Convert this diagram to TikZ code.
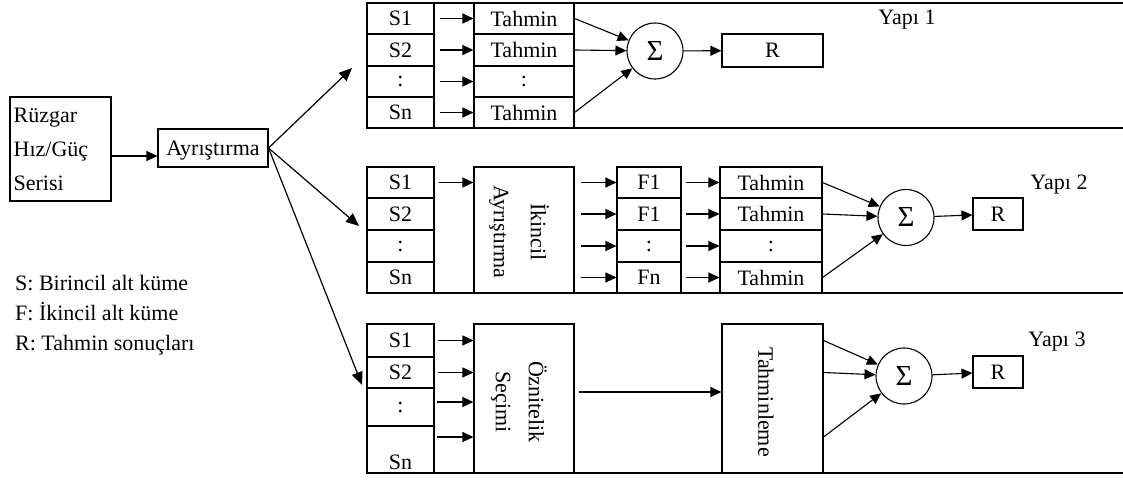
\documentclass[tikz,border=0pt]{standalone}
\usepackage{fontspec}
\setmainfont{Liberation Serif}
\usetikzlibrary{arrows.meta,calc}
\begin{document}
\begin{tikzpicture}[x=1pt,y=-1pt,
  every node/.style={font=\fontsize{22}{26}\selectfont},
  cell/.style={draw, line width=1.1pt, inner sep=0pt, text depth=0pt},
  arr/.style={line width=1.1pt, -{Triangle[length=11pt,width=10pt]}},
  fanarr/.style={line width=1.2pt, -{Triangle[length=13pt,width=11pt]}},
  frame/.style={line width=1.3pt},
  sumc/.style={draw, circle, line width=1.1pt, minimum size=56pt, inner sep=0pt, font=\fontsize{29}{30}\selectfont},
  vtext/.style={rotate=-90, align=center, inner sep=0pt},
  legend/.style={anchor=base west, inner sep=0pt}
  ]
\useasboundingbox (0,0) rectangle (1123,479);

% ---------- left part ----------
\node[cell, minimum width=101pt, minimum height=104pt] (rz) at (60.5,149) {};
\node[align=left, anchor=west, inner sep=4pt, font=\fontsize{22}{34}\selectfont] (rzt) at (rz.west) {Rüzgar\\Hız/Güç\\Serisi};
\node[cell, minimum width=110pt, minimum height=38pt] (ay) at (213,148) {Ayrıştırma};
\coordinate (ra) at ($(rz.east)+(0,7)$);
\draw[arr] (ra) -- (ra -| ay.west);

\coordinate (e1) at (352,68);
\coordinate (e2) at (359,226);
\coordinate (e3) at (362,385);
\draw[fanarr] (ay.east) -- (e1);
\draw[fanarr] (ay.east) -- (e2);
\draw[fanarr] (ay.east) -- (e3);

\node[legend] (lg1) at (15,290) {S: Birincil alt küme};
\node[legend] (lg2) at (15,320) {F: İkincil alt küme};
\node[legend] (lg3) at (15,350) {R: Tahmin sonuçları};

% ---------- Yapi 1 ----------
\draw[frame] (367,3) -- (1123,3);
\draw[frame] (367,128) -- (1123,128);
\node[cell, minimum width=67pt, minimum height=31pt] (s11) at (400.5,18.5) {S1};
\node[cell, minimum width=67pt, minimum height=32pt] (s12) at (400.5,50) {S2};
\node[cell, minimum width=67pt, minimum height=31pt] (s13) at (400.5,81.5) {:};
\node[cell, minimum width=67pt, minimum height=31pt] (s14) at (400.5,112.5) {Sn};
\node[cell, minimum width=40pt, minimum height=125pt] (g1) at (454,65.5) {};
\node[cell, minimum width=100pt, minimum height=31pt] (t11) at (524,18.5) {Tahmin};
\node[cell, minimum width=100pt, minimum height=32pt] (t12) at (524,50) {Tahmin};
\node[cell, minimum width=100pt, minimum height=31pt] (t13) at (524,81.5) {:};
\node[cell, minimum width=100pt, minimum height=31pt] (t14) at (524,112.5) {Tahmin};
\node[sumc] (sg1) at (655,51) {Σ};
\node[cell, minimum width=101pt, minimum height=33pt] (r1) at (772.5,50.5) {R};
\node (y1) at (907,20) {Yapı 1};
\foreach \i in {1,...,4} \draw[arr] ([xshift=5pt]s1\i.east) -- (t1\i.west);
\draw[arr] (t11.east) -- (sg1);
\draw[arr] (t12.east) -- (sg1);
\draw[arr] (t14.east) -- (sg1);
\draw[arr] (sg1) -- (r1);

% ---------- Yapi 2 ----------
\draw[frame] (367,293) -- (1123,293);
\node[cell, minimum width=67pt, minimum height=31pt] (s21) at (400.5,182.5) {S1};
\node[cell, minimum width=67pt, minimum height=32pt] (s22) at (400.5,214) {S2};
\node[cell, minimum width=67pt, minimum height=32pt] (s23) at (400.5,246) {:};
\node[cell, minimum width=67pt, minimum height=31pt] (s24) at (400.5,277.5) {Sn};
\node[cell, minimum width=100pt, minimum height=126pt] (ik) at (524,230) {};
\node[vtext, font=\fontsize{22}{37}\selectfont] (ikt) at (519,232) {İkincil\\Ayrıştırma};
\node[cell, minimum width=64pt, minimum height=31pt] (f1) at (649,182.5) {F1};
\node[cell, minimum width=64pt, minimum height=32pt] (f2) at (649,214) {F1};
\node[cell, minimum width=64pt, minimum height=32pt] (f3) at (649,246) {:};
\node[cell, minimum width=64pt, minimum height=31pt] (f4) at (649,277.5) {Fn};
\node[cell, minimum width=102pt, minimum height=31pt] (t21) at (771,182.5) {Tahmin};
\node[cell, minimum width=102pt, minimum height=32pt] (t22) at (771,214) {Tahmin};
\node[cell, minimum width=102pt, minimum height=32pt] (t23) at (771,246) {:};
\node[cell, minimum width=102pt, minimum height=31pt] (t24) at (771,277.5) {Tahmin};
\node[sumc] (sg2) at (906,217.5) {Σ};
\node[cell, minimum width=50pt, minimum height=32pt] (r2) at (998,214) {R};
\node (y2) at (1059,185) {Yapı 2};
\draw[arr] ([xshift=4pt]s21.east) -- (s21.east -| ik.west);
\foreach \i in {1,...,4} {
  \draw[arr] ($(ik.east |- f\i.west)+(6,0)$) -- (f\i.west);
  \draw[arr] ([xshift=4pt]f\i.east) -- (t2\i.west);
}
\draw[arr] (t21.east) -- (sg2);
\draw[arr] (t22.east) -- (sg2);
\draw[arr] (t24.east) -- (sg2);
\draw[arr] (sg2) -- (r2);

% ---------- Yapi 3 ----------
\draw[frame] (367,473) -- (1123,473);
\node[cell, minimum width=67pt, minimum height=33pt] (s31) at (400.5,340.5) {S1};
\node[cell, minimum width=67pt, minimum height=31pt] (s32) at (400.5,372.5) {S2};
\node[cell, minimum width=67pt, minimum height=38pt] (s33) at (400.5,407) {:};
\node[cell, minimum width=67pt, minimum height=47pt] (s34) at (400.5,449.5) {};
\node[inner sep=0pt, anchor=base] (s34t) at (400.5,469) {Sn};
\node[cell, minimum width=100pt, minimum height=149pt] (oz) at (524,398.5) {};
\node[vtext, font=\fontsize{22}{33}\selectfont] (ozt) at (519,402) {Öznitelik\\Seçimi};
\node[cell, minimum width=101pt, minimum height=149pt] (tl) at (772.5,398.5) {};
\node[vtext] (tlt) at (766,402) {Tahminleme};
\node[sumc] (sg3) at (904,376) {Σ};
\node[cell, minimum width=50pt, minimum height=32pt] (r3) at (998,372) {R};
\node (y3) at (1057,342) {Yapı 3};
\draw[arr] ([xshift=3pt]s31.east) -- (s31.east -| oz.west);
\draw[arr] ([xshift=3pt]s32.east) -- (s32.east -| oz.west);
\coordinate (a33) at (437,402);
\coordinate (a34) at (437,437);
\draw[arr] (a33) -- (a33 -| oz.west);
\draw[arr] (a34) -- (a34 -| oz.west);
\coordinate (a35) at (579,392);
\draw[arr] (a35) -- (a35 -| tl.west);
\draw[arr] (tl.east |- s31.east) -- (sg3);
\draw[arr] (tl.east |- s32.east) -- (sg3);
\draw[arr] (tl.east |- a34) -- (sg3);
\draw[arr] (sg3) -- (r3);
\end{tikzpicture}
\end{document}
